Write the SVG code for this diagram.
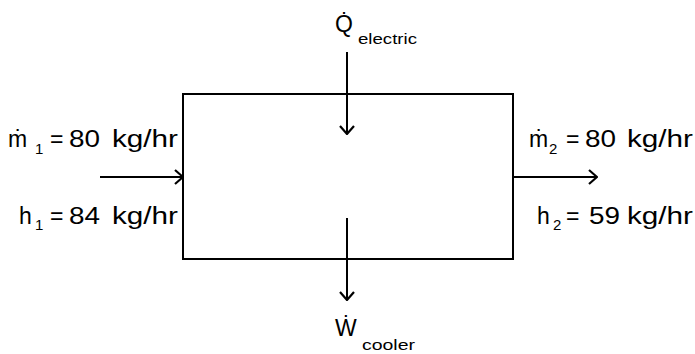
<svg xmlns="http://www.w3.org/2000/svg" width="695" height="354" viewBox="0 0 695 354">
<style>
text{font-family:"Liberation Sans",Arial,sans-serif;fill:#000;font-size:23px}
.s{font-size:15px}
.t{font-size:14px}
.ln{stroke:#000;stroke-width:2;fill:none}
</style>
<defs>
<marker id="ah" viewBox="0 0 10 16" refX="9" refY="8" markerWidth="10" markerHeight="16" markerUnits="userSpaceOnUse" orient="auto">
<path d="M1,1 L9,8 L1,15" fill="none" stroke="#000" stroke-width="2.2"/>
</marker>
</defs>
<rect fill="#fff" width="695" height="354"/>
<g id="process">
<rect class="ln" x="183" y="94" width="330" height="165"/>
</g>
<g id="connectors">
<line class="ln" x1="100" y1="177" x2="183" y2="177" marker-end="url(#ah)"/>
<line class="ln" x1="514" y1="177" x2="597" y2="177" marker-end="url(#ah)"/>
<line class="ln" x1="347" y1="52" x2="347" y2="134" marker-end="url(#ah)"/>
<line class="ln" x1="347" y1="218" x2="347" y2="300" marker-end="url(#ah)"/>
</g>
<g id="inlet-labels">
<text><tspan x="8" y="147">ṁ</tspan><tspan class="s" x="35" y="154">1</tspan><tspan x="50" y="147">=</tspan><tspan x="69" y="147" textLength="31" lengthAdjust="spacingAndGlyphs">80</tspan><tspan x="112" y="147" textLength="66" lengthAdjust="spacingAndGlyphs">kg/hr</tspan></text>
<text><tspan x="19" y="224">h</tspan><tspan class="s" x="35" y="230">1</tspan><tspan x="50" y="224">=</tspan><tspan x="69" y="224" textLength="31" lengthAdjust="spacingAndGlyphs">84</tspan><tspan x="112" y="224" textLength="66" lengthAdjust="spacingAndGlyphs">kg/hr</tspan></text>
</g>
<g id="outlet-labels">
<text><tspan x="529" y="147">ṁ</tspan><tspan class="s" x="549" y="154">2</tspan><tspan x="566" y="147">=</tspan><tspan x="585" y="147" textLength="31" lengthAdjust="spacingAndGlyphs">80</tspan><tspan x="627" y="147" textLength="66" lengthAdjust="spacingAndGlyphs">kg/hr</tspan></text>
<text><tspan x="537" y="224">h</tspan><tspan class="s" x="553" y="230">2</tspan><tspan x="566" y="224">=</tspan><tspan x="589" y="224" textLength="31" lengthAdjust="spacingAndGlyphs">59</tspan><tspan x="627" y="224" textLength="66" lengthAdjust="spacingAndGlyphs">kg/hr</tspan></text>
</g>
<g id="heat-label">
<text><tspan x="335" y="32">Q̇</tspan><tspan class="t" x="358" y="44" textLength="59" lengthAdjust="spacingAndGlyphs">electric</tspan></text>
</g>
<g id="work-label">
<text><tspan x="335" y="336">Ẇ</tspan><tspan class="t" x="362" y="350" textLength="53" lengthAdjust="spacingAndGlyphs">cooler</tspan></text>
</g>
</svg>
